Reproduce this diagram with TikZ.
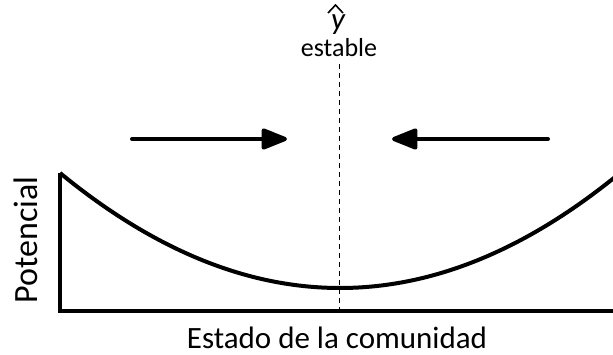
\documentclass[tikz,border=0pt]{standalone}
\usepackage{fontspec}
\setmainfont{Carlito}
\usetikzlibrary{arrows.meta}
\begin{document}
\begin{tikzpicture}[x=1pt,y=-1pt,
  thickline/.style={line width=4pt},
  arr/.style={line width=4pt, line cap=round, -{Triangle[length=29pt,width=22pt,round]}},
  lbl/.style={inner sep=0pt}]
\useasboundingbox (0,0) rectangle (613,355);
\coordinate (top) at (339,64);
\coordinate (bot) at (339,311);
\draw[line width=0.8pt, dash pattern=on 5pt off 4pt] (top) -- (bot);
\coordinate (lt) at (60,173);
\coordinate (lb) at (60,311);
\coordinate (rb) at (613,311);
\draw[thickline, line join=miter] (lt) -- (lb) -- (rb);
\draw[thickline, line join=miter] plot[domain=60:615, samples=120] (\x, {288 - 14.67*((\x-340)/100)^2});
\coordinate (a1s) at (132,139);
\coordinate (a1e) at (287,139);
\coordinate (a2s) at (548,139);
\coordinate (a2e) at (392,139);
\draw[arr] (a1s) -- (a1e);
\draw[arr] (a2s) -- (a2e);
\node[lbl, anchor=base, font=\fontsize{31}{36}\selectfont] (xl) at (337,348) {Estado de la comunidad};
\node[lbl, rotate=90, anchor=base, font=\fontsize{34}{38}\selectfont] (yl) at (37,240) {Potencial};
\node[lbl, anchor=base, font=\fontsize{26}{30}\selectfont] (st) at (339,57) {estable};
\node[lbl, anchor=base, font=\fontsize{31}{34}\selectfont\itshape] (yh) at (338,29.5) {y};
\coordinate (h1) at (328,13);
\coordinate (h2) at (335.5,5);
\coordinate (h3) at (343,13);
\draw[line width=1.6pt, line join=miter] (h1) -- (h2) -- (h3);
\end{tikzpicture}
\end{document}
